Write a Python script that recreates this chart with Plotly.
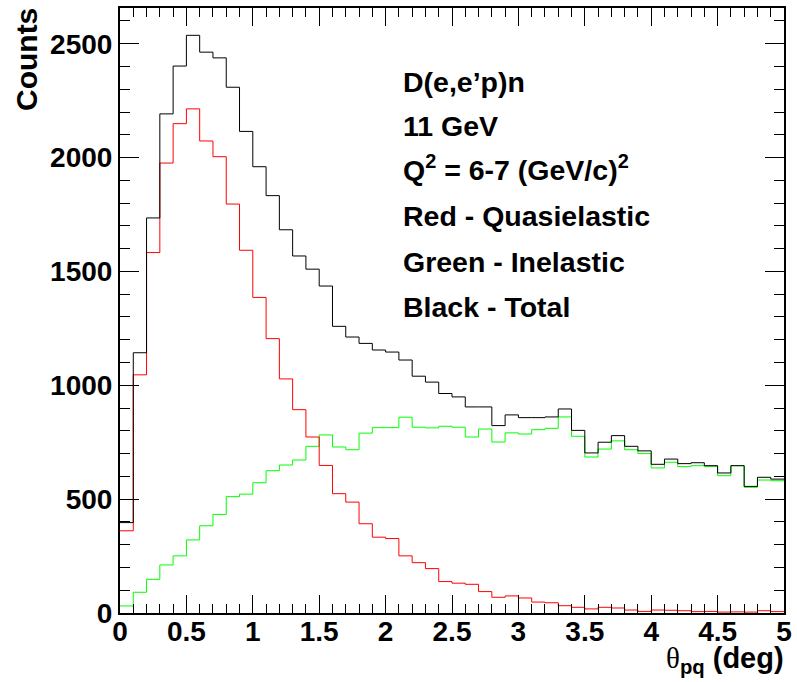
import numpy as np
import plotly.graph_objects as go

# ---- data (bin contents) ----
BIN_LO = 0.0
BIN_WIDTH = 0.1
N_BINS = 50

total = [397, 1143, 1735, 2192, 2402, 2537, 2463, 2438, 2309, 2115,
         1960, 1833, 1683, 1568, 1510, 1436, 1259, 1212, 1184, 1155,
         1146, 1111, 1040, 1014, 964, 949, 905, 905, 823, 870,
         858, 858, 861, 896, 802, 703, 750, 779, 732, 712,
         653, 676, 656, 660, 647, 615, 647, 556, 596, 588]

quasielastic = [361, 1046, 1583, 1976, 2149, 2214, 2073, 2004, 1796, 1593,
                1386, 1205, 1028, 893, 773, 648, 524, 487, 392, 333,
                327, 251, 221, 195, 138, 131, 126, 94, 69, 75,
                66, 48, 45, 32, 25, 18, 25, 22, 13, 7,
                13, 12, 10, 6, 7, 4, 5, 4, 10, 6]

inelastic = [31, 91, 148, 211, 251, 321, 383, 433, 511, 522,
             572, 625, 650, 672, 732, 782, 729, 717, 790, 814,
             814, 860, 816, 813, 820, 816, 773, 808, 751, 791,
             786, 805, 811, 861, 776, 685, 720, 756, 717, 700,
             637, 662, 643, 647, 644, 603, 647, 552, 584, 581]

text_lines = ["D(e,e’p)n", "11 GeV", "Q<sup>2</sup> = 6-7 (GeV/c)<sup>2</sup>",
              "Red - Quasielastic", "Green - Inelastic", "Black - Total"]

edges = BIN_LO + BIN_WIDTH * np.arange(N_BINS + 1)


def step(vals):
    xs = list(edges)
    ys = list(vals) + [vals[-1]]
    return xs, ys


FONT = "Liberation Sans"
fig = go.Figure()
for vals, col in [(inelastic, "#00ff00"), (quasielastic, "#ff0000"), (total, "#000000")]:
    xs, ys = step(vals)
    fig.add_trace(go.Scatter(x=xs, y=ys, mode="lines", line=dict(color=col, width=1, shape="hv"),
                             showlegend=False, hoverinfo="skip"))

axis_common = dict(showgrid=False, zeroline=False, showline=True, linecolor="black", linewidth=2,
                   mirror="allticks", ticks="inside", tickcolor="black", tickwidth=1,
                   ticklabeloverflow="allow",
                   tickfont=dict(family=FONT, size=28, color="black", weight="bold"))

fig.update_xaxes(range=[0, 5], dtick=0.5, tick0=0, ticklen=18, ticklabelstandoff=-8,
                 minor=dict(dtick=0.1, ticks="inside", ticklen=9, tickcolor="black", tickwidth=1),
                 **axis_common)
fig.update_yaxes(range=[0, 2657], dtick=500, tick0=0, ticklen=19,
                 minor=dict(dtick=100, ticks="inside", ticklen=10, tickcolor="black", tickwidth=1),
                 **axis_common)

ys_px = [82.5, 126, 168, 215.7, 261.5, 306.5]
for t, py in zip(text_lines, ys_px):
    fig.add_annotation(text=t, xref="paper", yref="paper", x=(404 - 120) / 672, y=(613 - py) / 605,
                       xanchor="left", yanchor="middle", showarrow=False,
                       font=dict(family=FONT, size=28.5, color="black", weight="bold"))

fig.add_annotation(text="Counts", xref="paper", yref="paper", x=(25.5 - 120) / 672, y=1.0035,
                   xanchor="center", yanchor="top", textangle=-90, showarrow=False,
                   font=dict(family=FONT, size=30, color="black", weight="bold"))

fig.add_annotation(text="<span style='font-family:Liberation Serif;font-weight:normal'>θ</span><sub>pq</sub> (deg)",
                   xref="paper", yref="paper", x=1.003, y=(613 - 660) / 605,
                   xanchor="right", yanchor="middle", showarrow=False,
                   font=dict(family=FONT, size=29, color="black", weight="bold"))

fig.update_layout(width=797, height=682, margin=dict(l=120, r=5, t=8, b=69),
                  paper_bgcolor="white", plot_bgcolor="white")

fig.write_html("out.html")
